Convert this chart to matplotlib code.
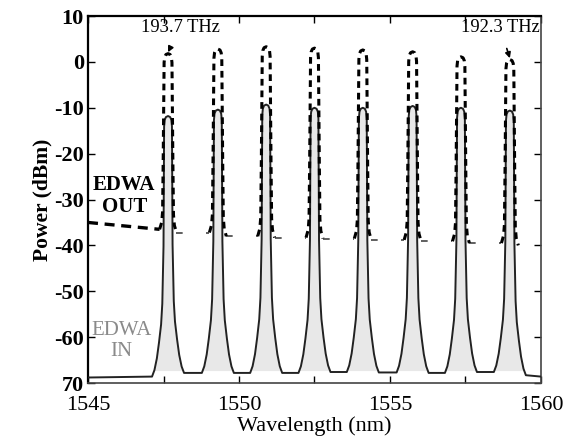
import numpy as np
import matplotlib.pyplot as plt

# values
peak_wl = [1547.65, 1549.30, 1550.90, 1552.50, 1554.10, 1555.75, 1557.35, 1558.97]
in_peak_dbm = [-11.8, -10.4, -9.3, -10.0, -10.0, -9.6, -10.0, -10.6]
out_peak_dbm = [1.8, 2.8, 3.3, 3.0, 2.6, 2.2, 1.1, 0.5]

# floor levels: left of first peak, the 7 gaps, right of last peak
in_floor_dbm = [-68.6, -67.8, -67.8, -67.8, -67.6, -67.7, -67.8, -67.6, -68.3]
out_floor_dbm = [-36.5, -37.2, -38.0, -38.3, -38.5, -38.8, -39.1, -39.5, -40.0]
out_start_dbm = -35.0

# channel shapes: half width (nm) against fraction of the way from top to floor
in_hw = [0.0, 0.07, 0.11, 0.13, 0.15, 0.19, 0.23, 0.30, 0.37, 0.45, 0.53]
in_frac = [0.0, 0.004, 0.015, 0.04, 0.5, 0.72, 0.80, 0.87, 0.93, 0.975, 1.0]
out_hw = [0.0, 0.07, 0.11, 0.13, 0.16, 0.18, 0.21, 0.28]
out_frac = [0.0, 0.005, 0.02, 0.05, 0.6, 0.9, 0.96, 1.0]

x_ticks = [1545, 1550, 1555, 1560]
x_minor = [1547.5, 1552.5, 1557.5]
y_ticks = [10, 0, -10, -20, -30, -40, -50, -60, -70]
y_labels = ["10", "0", "-10", "-20", "-30", "-40", "-50", "-60", "70"]


def channel(center, top, floor_l, floor_r, hw, frac):
    hw = np.array(hw)
    fr = np.array(frac)
    xl = center - hw[::-1]
    yl = top - fr[::-1] * (top - floor_l)
    xr = center + hw[1:]
    yr = top - fr[1:] * (top - floor_r)
    return np.concatenate([xl, xr]), np.concatenate([yl, yr])


plt.rcParams["font.family"] = "Liberation Serif"

fig = plt.figure(figsize=(5.73, 4.45), dpi=100)
ax = fig.add_axes([0.1536, 0.1393, 0.7905, 0.8247])

# EDWA IN (solid), with light shading inside the channels
in_x, in_y = [1545.0], [in_floor_dbm[0] - 0.2]
for i, c in enumerate(peak_wl):
    cx, cy = channel(c, in_peak_dbm[i], in_floor_dbm[i], in_floor_dbm[i + 1], in_hw, in_frac)
    in_x.extend(cx)
    in_y.extend(cy)
in_x.append(1560.0)
in_y.append(in_floor_dbm[-1] - 0.3)
in_x, in_y = np.array(in_x), np.array(in_y)
ax.fill_between(in_x, in_y, -67.4, where=in_y > -67.4, interpolate=True,
                color="#e8e8e8", lw=0)
ax.plot(in_x, in_y, color="#222222", lw=1.4, zorder=3)

# EDWA OUT (dashed): bold on channels and left shoulder, sparse between channels
ax.plot([1545.0, peak_wl[0] - out_hw[-1]], [out_start_dbm, out_floor_dbm[0]],
        color="black", lw=2.4, dashes=(3, 2), zorder=4)
for i, c in enumerate(peak_wl):
    cx, cy = channel(c, out_peak_dbm[i], out_floor_dbm[i], out_floor_dbm[i + 1], out_hw, out_frac)
    ax.plot(cx, cy, color="black", lw=2.2, dashes=(2.2, 1.6), zorder=4)
    if i < len(peak_wl) - 1:
        gx = [c + out_hw[-1], peak_wl[i + 1] - out_hw[-1]]
        gy = [out_floor_dbm[i + 1], out_floor_dbm[i + 1]]
        ax.plot(gx, gy, color="#444444", lw=1.2, dashes=(4, 14), zorder=2)

# channel frequency markers
ax.annotate("193.7 THz", xy=(peak_wl[0], out_peak_dbm[0] + 0.3), xytext=(1548.05, 7.4),
            ha="center", va="center", fontsize=13.3,
            arrowprops=dict(arrowstyle="-|>", color="black", lw=1.2,
                            mutation_scale=8, shrinkA=7, shrinkB=0))
ax.annotate("192.3 THz", xy=(peak_wl[-1], out_peak_dbm[-1] + 0.3), xytext=(1558.65, 7.4),
            ha="center", va="center", fontsize=13.3,
            arrowprops=dict(arrowstyle="-|>", color="black", lw=1.2,
                            mutation_scale=8, shrinkA=7, shrinkB=0))

ax.text(1546.2, -29.2, "EDWA\nOUT", ha="center", va="center", fontsize=15,
        fontweight="bold", linespacing=1.1)
ax.text(1546.1, -60.8, "EDWA\nIN", ha="center", va="center", fontsize=15,
        color="#8a8a8a", linespacing=1.1)

ax.set_xlim(1545, 1560)
ax.set_ylim(-70, 10)
ax.set_xticks(x_ticks)
ax.set_xticks(x_minor, minor=True)
ax.set_yticks(y_ticks)
ax.set_yticklabels(y_labels)
ax.tick_params(axis="both", which="both", direction="in", top=True, right=True)
ax.tick_params(axis="both", which="major", length=5, width=1.0)
ax.tick_params(axis="x", which="minor", length=5, width=1.0)
ax.tick_params(axis="x", labelsize=16, pad=9)
ax.tick_params(axis="y", labelsize=16, pad=3)
for lab in ax.get_yticklabels():
    lab.set_fontweight("bold")
for side in ["left", "top"]:
    ax.spines[side].set_linewidth(1.6)
for side in ["right", "bottom"]:
    ax.spines[side].set_linewidth(1.2)
    ax.spines[side].set_color("#444444")

ax.set_xlabel("Wavelength (nm)", fontsize=16, labelpad=1)
ax.set_ylabel("Power (dBm)", fontsize=15.5, fontweight="bold", labelpad=1)

fig.savefig("out.png", dpi=100)
